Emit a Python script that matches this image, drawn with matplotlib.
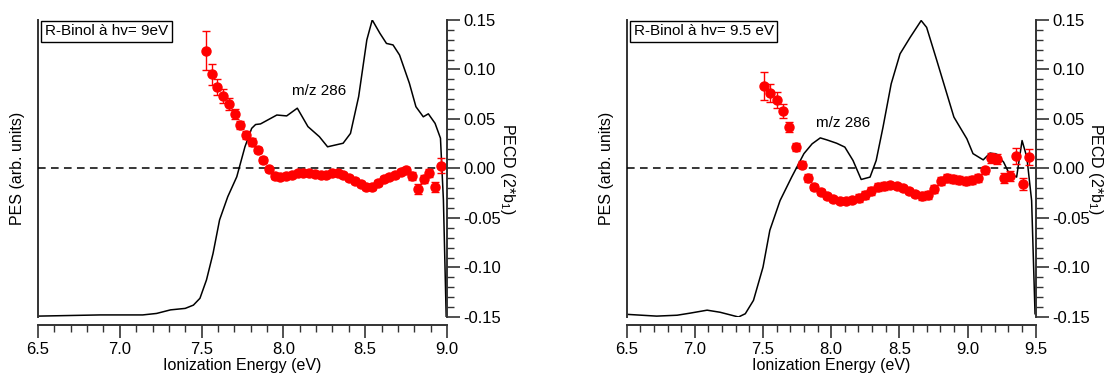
import matplotlib
matplotlib.use("Agg")
import matplotlib.pyplot as plt
from matplotlib.ticker import MultipleLocator, NullLocator

plt.rcParams['font.family'] = ['Liberation Sans', 'DejaVu Sans']
plt.rcParams['mathtext.fontset'] = 'custom'
plt.rcParams['mathtext.rm'] = 'Liberation Sans'

# ---- panel 1 : hv = 9 eV ----
PES1_E = [6.50, 6.88, 7.14, 7.225, 7.31, 7.40, 7.45, 7.49, 7.53, 7.57, 7.61, 7.66,
          7.715, 7.765, 7.806, 7.83, 7.86, 7.96, 8.02, 8.085, 8.15, 8.22, 8.27,
          8.365, 8.41, 8.46, 8.51, 8.543, 8.59, 8.63, 8.67, 8.71, 8.77, 8.81,
          8.855, 8.886, 8.927, 8.96, 8.978, 8.995]
PES1_I = [0.003, 0.007, 0.007, 0.012, 0.024, 0.029, 0.040, 0.063, 0.125, 0.214,
          0.327, 0.405, 0.472, 0.573, 0.635, 0.648, 0.650, 0.680, 0.677, 0.703,
          0.641, 0.607, 0.573, 0.585, 0.618, 0.742, 0.933, 1.000, 0.955, 0.921,
          0.916, 0.882, 0.787, 0.708, 0.674, 0.684, 0.652, 0.602, 0.394, 0.0]

PECD1_E = [7.527, 7.562, 7.597, 7.632, 7.667, 7.702, 7.737, 7.772, 7.807, 7.842,
           7.877, 7.912, 7.947, 7.982, 8.017, 8.052, 8.087, 8.122, 8.157, 8.192,
           8.227, 8.262, 8.297, 8.332, 8.367, 8.402, 8.437, 8.472, 8.507, 8.542,
           8.577, 8.612, 8.647, 8.682, 8.717, 8.752, 8.787, 8.822, 8.857, 8.892,
           8.927, 8.962]
PECD1_B = [0.119, 0.095, 0.082, 0.073, 0.065, 0.055, 0.044, 0.034, 0.027, 0.019,
           0.009, -0.001, -0.008, -0.009, -0.008, -0.007, -0.005, -0.005, -0.005,
           -0.006, -0.007, -0.007, -0.005, -0.005, -0.007, -0.010, -0.013, -0.016,
           -0.019, -0.019, -0.015, -0.011, -0.009, -0.007, -0.004, -0.002, -0.008,
           -0.021, -0.011, -0.005, -0.019, 0.003]
PECD1_ERR = [0.020, 0.011, 0.008, 0.007, 0.006, 0.005, 0.004, 0.004, 0.004, 0.003,
             0.003, 0.003, 0.003, 0.003, 0.003, 0.003, 0.003, 0.003, 0.003, 0.003,
             0.003, 0.003, 0.003, 0.003, 0.003, 0.003, 0.003, 0.003, 0.003, 0.003,
             0.003, 0.003, 0.003, 0.003, 0.003, 0.003, 0.004, 0.005, 0.004, 0.004,
             0.005, 0.008]

# ---- panel 2 : hv = 9.5 eV ----
PES2_E = [6.50, 6.72, 6.87, 6.965, 7.09, 7.185, 7.32, 7.37, 7.43, 7.50, 7.55,
          7.625, 7.71, 7.80, 7.86, 7.92, 7.97, 8.04, 8.10, 8.16, 8.22, 8.285,
          8.33, 8.38, 8.44, 8.505, 8.58, 8.66, 8.70, 8.775, 8.90, 8.995, 9.04,
          9.115, 9.165, 9.215, 9.265, 9.30, 9.36, 9.40, 9.435, 9.47, 9.495]
PES2_I = [0.009, 0.003, 0.006, 0.013, 0.023, 0.016, 0.0, 0.011, 0.056, 0.168,
          0.292, 0.392, 0.471, 0.550, 0.583, 0.603, 0.596, 0.585, 0.572, 0.527,
          0.463, 0.471, 0.527, 0.639, 0.785, 0.886, 0.942, 0.998, 0.975, 0.863,
          0.673, 0.600, 0.550, 0.529, 0.552, 0.548, 0.521, 0.488, 0.471, 0.594,
          0.538, 0.392, 0.011]

PECD2_E = [7.507, 7.553, 7.600, 7.646, 7.692, 7.739, 7.785, 7.831, 7.877, 7.924,
           7.970, 8.016, 8.062, 8.109, 8.155, 8.201, 8.247, 8.294, 8.340, 8.386,
           8.432, 8.479, 8.525, 8.571, 8.617, 8.664, 8.710, 8.756, 8.802, 8.849,
           8.895, 8.941, 8.987, 9.034, 9.080, 9.126, 9.172, 9.219, 9.265, 9.311,
           9.357, 9.404, 9.450]
PECD2_B = [0.083, 0.076, 0.069, 0.058, 0.042, 0.022, 0.004, -0.010, -0.019, -0.024,
           -0.028, -0.031, -0.033, -0.033, -0.032, -0.030, -0.027, -0.023, -0.019,
           -0.018, -0.017, -0.018, -0.020, -0.023, -0.026, -0.028, -0.027, -0.021,
           -0.013, -0.010, -0.011, -0.012, -0.013, -0.012, -0.010, -0.002, 0.011,
           0.010, -0.010, -0.008, 0.013, -0.016, 0.012]
PECD2_ERR = [0.014, 0.009, 0.008, 0.007, 0.005, 0.004, 0.004, 0.004, 0.003, 0.003,
             0.003, 0.003, 0.003, 0.003, 0.003, 0.004, 0.004, 0.004, 0.004, 0.004,
             0.003, 0.003, 0.003, 0.003, 0.003, 0.004, 0.004, 0.004, 0.004, 0.004,
             0.004, 0.004, 0.004, 0.004, 0.004, 0.004, 0.005, 0.005, 0.005, 0.005,
             0.008, 0.006, 0.008]

SPINE = "#333333"
TICK_FS = 12
LABEL_FS = 11.5

fig = plt.figure(figsize=(11.07, 3.76), dpi=100)


def panel(rect, pes_e, pes_i, pecd_e, pecd_b, pecd_err, xmax, title, note_xy):
    ax = fig.add_axes(rect)
    ax.plot(pes_e, pes_i, color="black", lw=1.1)
    ax.set_xlim(6.5, xmax)
    ax.set_ylim(0, 1)
    ax.spines["top"].set_visible(False)
    ax.spines["right"].set_visible(False)
    ax.spines["bottom"].set_position(("outward", 6))
    for s in ("left", "bottom"):
        ax.spines[s].set_color(SPINE)
        ax.spines[s].set_linewidth(1.4)
    ax.yaxis.set_major_locator(NullLocator())
    ax.xaxis.set_major_locator(MultipleLocator(0.5))
    ax.xaxis.set_minor_locator(MultipleLocator(0.1))
    ax.tick_params(axis="x", which="major", length=9, width=1.2, color=SPINE,
                   labelsize=TICK_FS, pad=3)
    ax.tick_params(axis="x", which="minor", length=5, width=1.0, color=SPINE)
    ax.xaxis.set_major_formatter(plt.FuncFormatter(lambda v, p: f"{v:.1f}"))
    ax.set_xlabel("Ionization Energy (eV)", fontsize=LABEL_FS, labelpad=1)
    ax.set_ylabel("PES (arb. units)", fontsize=LABEL_FS, labelpad=9)

    ax2 = ax.twinx()
    ax2.set_ylim(-0.15, 0.15)
    ax2.axhline(0, color="black", lw=1.1, ls=(0, (5, 3.5)))
    ax2.errorbar(pecd_e, pecd_b, yerr=pecd_err, fmt="o", color="#ff0000",
                 ms=6.5, elinewidth=1.0, capsize=3, capthick=1.0)
    for s in ("top", "left", "bottom"):
        ax2.spines[s].set_visible(False)
    ax2.spines["right"].set_color(SPINE)
    ax2.spines["right"].set_linewidth(1.4)
    ax2.yaxis.set_major_locator(MultipleLocator(0.05))
    ax2.yaxis.set_minor_locator(MultipleLocator(0.01))
    ax2.tick_params(axis="y", which="major", length=9, width=1.2, color=SPINE,
                    labelsize=TICK_FS, pad=3)
    ax2.tick_params(axis="y", which="minor", length=5, width=1.0, color=SPINE)
    ax2.yaxis.set_major_formatter(plt.FuncFormatter(lambda v, p: f"{v:.2f}"))
    ax2.set_ylabel(r"PECD (2*b$_\mathregular{1}$)", fontsize=LABEL_FS,
                   rotation=-90, labelpad=11)

    ax2.text(0.017, 0.985, title, transform=ax2.transAxes, fontsize=11,
             ha="left", va="top",
             bbox=dict(boxstyle="square,pad=0.25", facecolor="white",
                       edgecolor="black", linewidth=1.0))
    ax2.text(note_xy[0], note_xy[1], "m/z 286", fontsize=11, ha="center",
             va="center")
    return ax, ax2


panel([0.0343, 0.1569, 0.3695, 0.790], PES1_E, PES1_I, PECD1_E, PECD1_B,
      PECD1_ERR, 9.0, "R-Binol à hv= 9eV", (8.22, 0.078))
panel([0.5661, 0.1569, 0.3695, 0.790], PES2_E, PES2_I, PECD2_E, PECD2_B,
      PECD2_ERR, 9.5, "R-Binol à hv= 9.5 eV", (8.09, 0.046))

fig.savefig("out.png", dpi=100)
